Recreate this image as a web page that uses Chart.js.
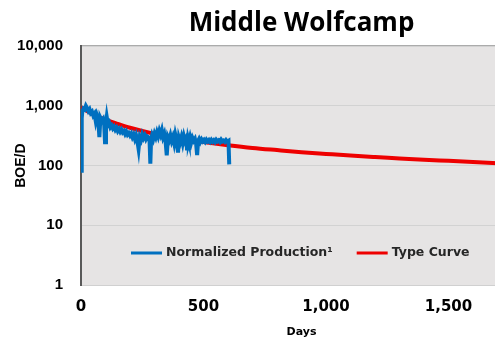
<!DOCTYPE html>
<html>
<head>
<meta charset="utf-8">
<script src="https://cdn.jsdelivr.net/npm/chart.js@4.4.1/dist/chart.umd.min.js"></script>
<style>
  html, body { margin: 0; padding: 0; background: #fff; overflow: hidden; }
  #wrap { width: 522px; height: 343px; }
</style>
</head>
<body>
<div id="wrap"><canvas id="grafico"></canvas></div>
<script>
// dados (dias x BOE/D)
const diasProducao = [0, 3, 5, 10, 15, 20, 25, 30, 35, 40, 45, 50, 55, 60, 65, 70, 75, 78, 80, 85,
  90, 95, 98, 102, 105, 110, 115, 120, 125, 130, 135, 140, 145, 150, 155, 160, 165, 170, 175, 180,
  185, 190, 195, 200, 205, 210, 215, 220, 225, 230, 235, 240, 245, 250, 255, 260, 265, 270, 275, 280,
  283, 286, 290, 295, 300, 305, 310, 315, 320, 325, 330, 335, 340, 345, 350, 355, 360, 365, 370, 375,
  380, 385, 390, 396, 400, 405, 410, 415, 420, 425, 430, 433, 437, 440, 445, 450, 455, 460, 465, 470,
  474, 478, 482, 487, 492, 497, 502, 507, 512, 517, 522, 527, 532, 537, 542, 547, 552, 557, 562, 567,
  572, 577, 582, 587, 592, 597, 602, 605];
const producaoNormalizada = [82, 620, 780, 900, 870, 1000, 920, 820, 880, 760, 800, 690, 740, 560, 700, 610, 300, 520, 620, 560,
  600, 470, 245, 520, 650, 480, 520, 440, 470, 420, 450, 400, 430, 380, 410, 370, 400, 360, 380, 340,
  370, 330, 350, 320, 345, 300, 330, 280, 320, 260, 190, 300, 270, 330, 290, 320, 280, 310, 300, 250,
  108, 270, 320, 280, 340, 300, 360, 310, 380, 330, 390, 300, 340, 260, 148, 300, 270, 320, 260, 300,
  240, 330, 270, 165, 290, 250, 300, 240, 310, 260, 290, 180, 280, 250, 300, 245, 290, 260, 280, 230,
  150, 260, 280, 250, 275, 255, 270, 250, 272, 255, 268, 250, 270, 252, 266, 248, 270, 255, 265, 250,
  272, 254, 262, 250, 268, 252, 260, 105];

const diasCurva = [0, 50, 100, 150, 200, 300, 400, 500, 600, 700, 800, 900, 1000, 1100, 1200, 1300, 1400, 1500, 1600, 1700, 1800];
const curvaTipo = [950, 720, 590, 500, 430, 340, 285, 248, 220, 198, 182, 168, 157, 147, 139, 132, 125, 120, 115, 110, 106];

const ticksX = [0, 500, 1000, 1500];
const ticksY = [1, 10, 100, 1000, 10000];

const pontos = (xs, ys) => xs.map((x, i) => ({ x: x, y: ys[i] }));

// fundo cinza da área do gráfico + borda superior
const fundoPlugin = {
  id: 'fundo',
  beforeDraw(chart) {
    const { ctx, chartArea: a } = chart;
    ctx.save();
    ctx.fillStyle = '#e6e4e4';
    ctx.fillRect(a.left, a.top, a.right - a.left, a.bottom - a.top);
    ctx.strokeStyle = '#595959';
    ctx.lineWidth = 1.5;
    ctx.beginPath();
    ctx.moveTo(a.left, a.top);
    ctx.lineTo(a.right, a.top);
    ctx.stroke();
    ctx.restore();
  }
};

// legenda desenhada dentro da área do gráfico
const legendaPlugin = {
  id: 'legendaInterna',
  afterDatasetsDraw(chart) {
    const { ctx, chartArea: a } = chart;
    const y = a.bottom - 32;
    let x = a.left + 50;
    ctx.save();
    ctx.font = 'bold 12.5px "DejaVu Sans"';
    ctx.textBaseline = 'middle';
    chart.data.datasets.forEach(ds => {
      ctx.strokeStyle = ds.borderColor;
      ctx.lineWidth = 3;
      ctx.beginPath();
      ctx.moveTo(x, y);
      ctx.lineTo(x + 31, y);
      ctx.stroke();
      ctx.fillStyle = '#262626';
      ctx.fillText(ds.label, x + 35, y);
      x += 35 + ctx.measureText(ds.label).width + 24;
    });
    ctx.restore();
  }
};

new Chart(document.getElementById('grafico'), {
  type: 'line',
  data: {
    datasets: [
      {
        label: 'Normalized Production¹',
        data: pontos(diasProducao, producaoNormalizada),
        borderColor: '#0070c0',
        borderWidth: 4,
        pointRadius: 0,
        tension: 0
      },
      {
        label: 'Type Curve',
        data: pontos(diasCurva, curvaTipo),
        borderColor: '#ee0000',
        borderWidth: 4,
        pointRadius: 0,
        cubicInterpolationMode: 'monotone'
      }
    ]
  },
  options: {
    responsive: true,
    maintainAspectRatio: false,
    animation: false,
    layout: { padding: { left: 3, top: 0, right: 0, bottom: 0 } },
    plugins: {
      legend: { display: false },
      tooltip: { enabled: false },
      title: {
        display: true,
        text: 'Middle Wolfcamp',
        fullSize: false,
        color: '#000',
        font: { family: '"Open Sans"', size: 26, weight: 'bold' },
        padding: { top: 8, bottom: 7 }
      }
    },
    scales: {
      x: {
        type: 'linear',
        min: 0,
        max: 1800,
        afterBuildTicks: s => { s.ticks = ticksX.map(v => ({ value: v })); },
        afterFit: s => { s.height = 58; },
        grid: { display: false, drawTicks: false },
        border: { color: '#d0d0d0', width: 1 },
        ticks: {
          padding: 13,
          maxRotation: 0,
          color: '#000',
          font: { family: '"DejaVu Sans"', size: 15, weight: 'bold' },
          callback: v => v.toLocaleString('en-US')
        },
        title: {
          display: true,
          text: 'Days',
          color: '#000',
          font: { family: '"DejaVu Sans"', size: 11, weight: 'bold' },
          padding: { top: 5, bottom: 4 }
        }
      },
      y: {
        type: 'logarithmic',
        min: 1,
        max: 10000,
        afterBuildTicks: s => { s.ticks = ticksY.map(v => ({ value: v })); },
        afterFit: s => { s.width = 78; },
        grid: { color: '#d2d2d2', lineWidth: 1, drawTicks: false },
        border: { color: '#595959', width: 2 },
        ticks: {
          padding: 18,
          color: '#000',
          font: { family: '"Liberation Sans"', size: 15, weight: 'bold' },
          callback: v => Number(v).toLocaleString('en-US')
        },
        title: {
          display: true,
          text: 'BOE/D',
          color: '#000',
          font: { family: '"Liberation Sans"', size: 14, weight: 'bold' },
          padding: { top: 10, bottom: 4 }
        }
      }
    }
  },
  plugins: [fundoPlugin, legendaPlugin]
});
</script>
</body>
</html>
